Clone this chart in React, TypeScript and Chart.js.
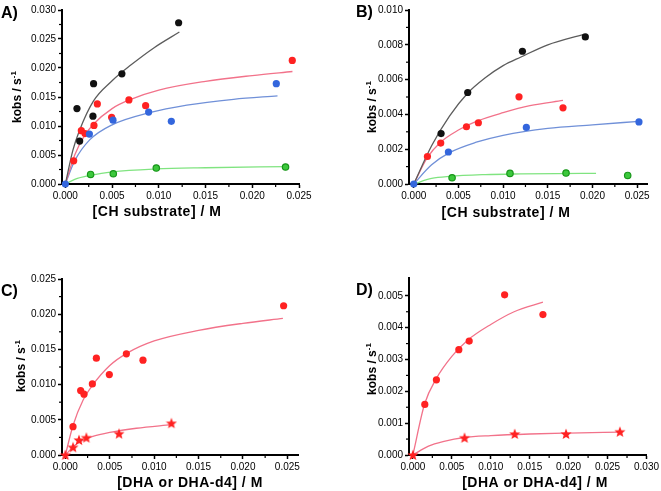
import React, { useEffect, useRef } from "react";
import { Chart, registerables } from "chart.js";
Chart.register(...registerables);

// ---------- Panel A ----------
const aXTickLabels = ["0.000", "0.005", "0.010", "0.015", "0.020", "0.025"];
const aYTickLabels = ["0.000", "0.005", "0.010", "0.015", "0.020", "0.025", "0.030"];
const aBlackX = [0.00124, 0.00153, 0.00295, 0.00302, 0.00605, 0.01212];
const aBlackY = [0.013, 0.0074, 0.0117, 0.0173, 0.019, 0.0278];
const aRedX = [0.00089, 0.00171, 0.0021, 0.00306, 0.00342, 0.00495, 0.0068, 0.00859, 0.02428];
const aRedY = [0.004, 0.0092, 0.0087, 0.0101, 0.0138, 0.0115, 0.0145, 0.0135, 0.0213];
const aBlueX = [0, 0.00257, 0.0051, 0.00891, 0.01134, 0.02257];
const aBlueY = [0, 0.0086, 0.011, 0.0124, 0.0108, 0.0173];
const aGreenX = [0.0027, 0.00513, 0.00973, 0.02356];
const aGreenY = [0.00165, 0.00177, 0.00275, 0.00293];
const aBlackFitX = [0, 0.0008, 0.0015, 0.003, 0.005, 0.007, 0.0095, 0.0122];
const aBlackFitY = [0, 0.0058, 0.0092, 0.0143, 0.0178, 0.0205, 0.0235, 0.0262];
const aRedFitX = [0, 0.001, 0.002, 0.003, 0.005, 0.007, 0.01, 0.015, 0.02, 0.0243];
const aRedFitY = [0, 0.005, 0.0082, 0.0103, 0.013, 0.0146, 0.0162, 0.0177, 0.0187, 0.0194];
const aBlueFitX = [0, 0.001, 0.0026, 0.005, 0.009, 0.013, 0.018, 0.0227];
const aBlueFitY = [0, 0.004, 0.0076, 0.0102, 0.0123, 0.0136, 0.0146, 0.0152];
const aGreenFitX = [0, 0.001, 0.0027, 0.005, 0.0097, 0.015, 0.0237];
const aGreenFitY = [0, 0.0008, 0.0015, 0.0021, 0.0026, 0.0028, 0.003];

// ---------- Panel B ----------
const bXTickLabels = ["0.000", "0.005", "0.010", "0.015", "0.020", "0.025"];
const bYTickLabels = ["0.000", "0.002", "0.004", "0.006", "0.008", "0.010"];
const bBlackX = [0.00306, 0.00604, 0.01216, 0.0192];
const bBlackY = [0.0029, 0.00526, 0.00763, 0.00845];
const bRedX = [0.00153, 0.00302, 0.0059, 0.00723, 0.01178, 0.0167];
const bRedY = [0.00158, 0.00235, 0.00329, 0.00352, 0.00501, 0.00438];
const bBlueX = [0, 0.00388, 0.0126, 0.0252];
const bBlueY = [0, 0.00184, 0.00325, 0.00357];
const bGreenX = [0.00429, 0.01077, 0.01704, 0.02394];
const bGreenY = [0.00036, 0.00061, 0.00063, 0.00049];
const bBlackFitX = [0, 0.002, 0.004, 0.006, 0.008, 0.01, 0.012, 0.015, 0.019];
const bBlackFitY = [0, 0.0022, 0.0039, 0.0052, 0.0061, 0.0068, 0.0073, 0.008, 0.0086];
const bRedFitX = [0, 0.0015, 0.003, 0.005, 0.007, 0.01, 0.013, 0.0167];
const bRedFitY = [0, 0.0015, 0.0024, 0.0031, 0.0036, 0.0041, 0.0045, 0.0048];
const bBlueFitX = [0, 0.002, 0.004, 0.007, 0.01, 0.015, 0.02, 0.0252];
const bBlueFitY = [0, 0.0011, 0.0018, 0.0024, 0.0028, 0.0032, 0.0034, 0.0036];
const bGreenFitX = [0, 0.002, 0.004, 0.008, 0.012, 0.016, 0.0204];
const bGreenFitY = [0, 0.00032, 0.00044, 0.00054, 0.00058, 0.0006, 0.00061];

// ---------- Panel C ----------
const cXTickLabels = ["0.000", "0.005", "0.010", "0.015", "0.020", "0.025"];
const cYTickLabels = ["0.000", "0.005", "0.010", "0.015", "0.020", "0.025"];
const cRedX = [0.00086, 0.00172, 0.0021, 0.00304, 0.00349, 0.00495, 0.00687, 0.00874, 0.02458];
const cRedY = [0.00403, 0.00915, 0.00864, 0.0101, 0.01376, 0.01143, 0.01437, 0.01347, 0.0212];
const cStarX = [0, 0.00086, 0.00153, 0.00236, 0.00604, 0.01194];
const cStarY = [0, 0.0011, 0.00213, 0.00246, 0.00303, 0.00451];
const cRedFitX = [0, 0.00086, 0.002, 0.003, 0.005, 0.007, 0.01, 0.015, 0.02, 0.0245];
const cRedFitY = [0, 0.0042, 0.0078, 0.0098, 0.0127, 0.0145, 0.0162, 0.0177, 0.0187, 0.0194];
const cStarFitX = [0, 0.001, 0.002, 0.003, 0.005, 0.008, 0.0119];
const cStarFitY = [0, 0.0013, 0.0021, 0.0026, 0.0032, 0.0038, 0.0043];

// ---------- Panel D ----------
const dXTickLabels = ["0.000", "0.005", "0.010", "0.015", "0.020", "0.025", "0.030"];
const dYTickLabels = ["0.000", "0.001", "0.002", "0.003", "0.004", "0.005"];
const dRedX = [0.00153, 0.00302, 0.0059, 0.00723, 0.01178, 0.0167];
const dRedY = [0.00159, 0.00236, 0.00331, 0.00358, 0.00503, 0.00441];
const dStarX = [0, 0.00663, 0.01308, 0.01967, 0.02659];
const dStarY = [0, 0.00054, 0.00066, 0.00066, 0.00073];
const dRedFitX = [0, 0.0015, 0.003, 0.005, 0.007, 0.01, 0.013, 0.0167];
const dRedFitY = [0, 0.0016, 0.0024, 0.0031, 0.0036, 0.0041, 0.0045, 0.0048];
const dStarFitX = [0, 0.002, 0.004, 0.0066, 0.01, 0.015, 0.02, 0.0267];
const dStarFitY = [0, 0.00028, 0.00043, 0.00055, 0.00061, 0.00066, 0.00069, 0.00072];

const FONT = '"Liberation Sans", Arial, Helvetica, sans-serif';

const C = {
  black: "#111111",
  blackFit: "#5c5c5c",
  red: "#ff2222",
  redFit: "#f2728a",
  blue: "#3366dd",
  blueFit: "#7090d8",
  green: "#3cc83c",
  greenEdge: "#18961a",
  greenFit: "#80e480",
};

const pts = (xs: number[], ys: number[]) => xs.map((x, i) => ({ x, y: ys[i] }));

function makeStar(color: string) {
  const c = document.createElement("canvas");
  c.width = 12;
  c.height = 12;
  const g = c.getContext("2d")!;
  g.fillStyle = color;
  g.beginPath();
  for (let i = 0; i < 10; i++) {
    const r = i % 2 === 0 ? 5.8 : 2.5;
    const a = -Math.PI / 2 + (i * Math.PI) / 5;
    const px = 6 + r * Math.cos(a);
    const py = 6.4 + r * Math.sin(a);
    if (i === 0) g.moveTo(px, py);
    else g.lineTo(px, py);
  }
  g.closePath();
  g.fill();
  return c;
}

const scatterDs = (xs: number[], ys: number[], fill: string, edge?: string, style?: any) => ({
  type: "scatter",
  data: pts(xs, ys),
  pointStyle: style || "circle",
  pointRadius: style ? 5 : edge ? 3.2 : 3.6,
  backgroundColor: fill,
  borderColor: edge || fill,
  borderWidth: edge ? 1.2 : 0,
  showLine: false,
  order: 0,
  clip: false,
});

const fitDs = (xs: number[], ys: number[], color: string) => ({
  type: "scatter",
  data: pts(xs, ys),
  showLine: true,
  borderColor: color,
  borderWidth: 1.3,
  pointRadius: 0,
  cubicInterpolationMode: "monotone",
  fill: false,
  order: 1,
  clip: false,
});

const textPlugin = {
  id: "panelText",
  afterDraw(chart: any, _a: any, o: any) {
    const ctx = chart.ctx;
    ctx.save();
    ctx.fillStyle = "#000";
    ctx.font = `bold 16px ${FONT}`;
    ctx.textAlign = "left";
    ctx.textBaseline = "alphabetic";
    ctx.fillText(o.label, o.labelX, o.labelY);

    ctx.font = `bold 14px ${FONT}`;
    ctx.textAlign = "center";
    ctx.textBaseline = "middle";
    try {
      (ctx as any).letterSpacing = "0.5px";
    } catch (e) {}
    ctx.fillText(o.xTitle, o.xTitleX, o.xTitleY);
    try {
      (ctx as any).letterSpacing = "0px";
    } catch (e) {}

    ctx.translate(o.yTitleX, o.yTitleY);
    ctx.rotate(-Math.PI / 2);
    const mainF = `bold 12px ${FONT}`;
    const supF = `bold 8px ${FONT}`;
    ctx.font = mainF;
    const w1 = ctx.measureText(o.yTitle).width;
    ctx.font = supF;
    const w2 = ctx.measureText(o.yTitleSup).width;
    const start = -(w1 + w2) / 2;
    ctx.textAlign = "left";
    ctx.font = mainF;
    ctx.fillText(o.yTitle, start, 0);
    ctx.font = supF;
    ctx.fillText(o.yTitleSup, start + w1, -4);
    ctx.restore();
  },
};

const minorPlugin = {
  id: "minorTicks",
  afterDraw(chart: any) {
    const ctx = chart.ctx;
    const area = chart.chartArea;
    ctx.save();
    ctx.strokeStyle = "#000";
    ctx.lineWidth = 1.2;
    ["x", "y"].forEach((id) => {
      const s = chart.scales[id];
      const t = s.ticks;
      for (let i = 0; i < t.length - 1; i++) {
        const p = s.getPixelForValue((t[i].value + t[i + 1].value) / 2);
        ctx.beginPath();
        if (id === "x") {
          ctx.moveTo(p, area.bottom);
          ctx.lineTo(p, area.bottom + 3);
        } else {
          ctx.moveTo(area.left, p);
          ctx.lineTo(area.left - 3, p);
        }
        ctx.stroke();
      }
    });
    ctx.restore();
  },
};

function axis(min: number, max: number, labels: string[], fit: (s: any) => void) {
  return {
    type: "linear",
    min,
    max,
    afterBuildTicks: (s: any) => {
      s.ticks = labels.map((l) => ({ value: parseFloat(l) }));
    },
    afterFit: fit,
    ticks: {
      autoSkip: false,
      maxRotation: 0,
      minRotation: 0,
      color: "#000",
      padding: 2,
      font: { size: 10, family: FONT },
      callback: (_v: any, i: number) => labels[i],
    },
    grid: {
      drawOnChartArea: false,
      drawTicks: true,
      tickLength: 4,
      tickWidth: 1.5,
      tickColor: "#000",
    },
    border: { display: true, color: "#000", width: 2 },
  };
}

type Panel = {
  left: number;
  top: number;
  w: number;
  h: number;
  pad: { left: number; top: number; right: number; bottom: number };
  yWidth: number;
  xHeight: number;
  x: [number, number];
  y: [number, number];
  xLabels: string[];
  yLabels: string[];
  datasets: (star: HTMLCanvasElement) => any[];
  text: any;
};

const panels: Panel[] = [
  {
    left: 0, top: 0, w: 330, h: 245,
    pad: { left: 0, top: 10, right: 31, bottom: 0 }, yWidth: 62, xHeight: 61,
    x: [-0.00036, 0.025], y: [0, 0.03],
    xLabels: aXTickLabels, yLabels: aYTickLabels,
    datasets: () => [
      fitDs(aBlackFitX, aBlackFitY, C.blackFit),
      fitDs(aRedFitX, aRedFitY, C.redFit),
      fitDs(aBlueFitX, aBlueFitY, C.blueFit),
      fitDs(aGreenFitX, aGreenFitY, C.greenFit),
      scatterDs(aBlueX, aBlueY, C.blue),
      scatterDs(aBlackX, aBlackY, C.black),
      scatterDs(aRedX, aRedY, C.red),
      scatterDs(aGreenX, aGreenY, C.green, C.greenEdge),
    ],
    text: { label: "A)", labelX: 1, labelY: 18, xTitle: "[CH substrate] / M", xTitleX: 157, xTitleY: 212, yTitle: "kobs / s", yTitleSup: "-1", yTitleX: 18, yTitleY: 97 },
  },
  {
    left: 330, top: 0, w: 331, h: 245,
    pad: { left: 0, top: 10, right: 14, bottom: 0 }, yWidth: 79, xHeight: 61,
    x: [-0.00053, 0.0261], y: [0, 0.01],
    xLabels: bXTickLabels, yLabels: bYTickLabels,
    datasets: () => [
      fitDs(bBlackFitX, bBlackFitY, C.blackFit),
      fitDs(bRedFitX, bRedFitY, C.redFit),
      fitDs(bBlueFitX, bBlueFitY, C.blueFit),
      fitDs(bGreenFitX, bGreenFitY, C.greenFit),
      scatterDs(bBlueX, bBlueY, C.blue),
      scatterDs(bBlackX, bBlackY, C.black),
      scatterDs(bRedX, bRedY, C.red),
      scatterDs(bGreenX, bGreenY, C.green, C.greenEdge),
    ],
    text: { label: "B)", labelX: 26, labelY: 17, xTitle: "[CH substrate] / M", xTitleX: 176, xTitleY: 213, yTitle: "kobs / s", yTitleSup: "-1", yTitleX: 43, yTitleY: 107 },
  },
  {
    left: 0, top: 245, w: 330, h: 246,
    pad: { left: 0, top: 34, right: 32, bottom: 0 }, yWidth: 62, xHeight: 36,
    x: [-0.00038, 0.0262], y: [0, 0.025],
    xLabels: cXTickLabels, yLabels: cYTickLabels,
    datasets: (star) => [
      fitDs(cRedFitX, cRedFitY, C.redFit),
      fitDs(cStarFitX, cStarFitY, C.redFit),
      scatterDs(cRedX, cRedY, C.red),
      scatterDs(cStarX, cStarY, C.red, undefined, star),
    ],
    text: { label: "C)", labelX: 1, labelY: 51, xTitle: "[DHA or DHA-d4] / M", xTitleX: 190, xTitleY: 238, yTitle: "kobs / s", yTitleSup: "-1", yTitleX: 22, yTitleY: 121 },
  },
  {
    left: 330, top: 245, w: 331, h: 246,
    pad: { left: 0, top: 33, right: 14, bottom: 0 }, yWidth: 79, xHeight: 36,
    x: [-0.0005, 0.03], y: [0, 0.00556],
    xLabels: dXTickLabels, yLabels: dYTickLabels,
    datasets: (star) => [
      fitDs(dRedFitX, dRedFitY, C.redFit),
      fitDs(dStarFitX, dStarFitY, C.redFit),
      scatterDs(dRedX, dRedY, C.red),
      scatterDs(dStarX, dStarY, C.red, undefined, star),
    ],
    text: { label: "D)", labelX: 26, labelY: 50, xTitle: "[DHA or DHA-d4] / M", xTitleX: 205, xTitleY: 238, yTitle: "kobs / s", yTitleSup: "-1", yTitleX: 43, yTitleY: 124 },
  },
];

function PanelChart({ p }: { p: Panel }) {
  const ref = useRef<HTMLCanvasElement>(null);
  useEffect(() => {
    const star = makeStar(C.red);
    const chart = new Chart(ref.current!, {
      type: "scatter",
      data: { datasets: p.datasets(star) as any },
      options: {
        responsive: false,
        animation: false,
        devicePixelRatio: 1,
        layout: { padding: p.pad },
        plugins: {
          legend: { display: false },
          tooltip: { enabled: false },
          panelText: p.text,
        } as any,
        scales: {
          x: axis(p.x[0], p.x[1], p.xLabels, (s: any) => { s.height = p.xHeight; }) as any,
          y: axis(p.y[0], p.y[1], p.yLabels, (s: any) => { s.width = p.yWidth; }) as any,
        },
      },
      plugins: [textPlugin as any, minorPlugin as any],
    });
    return () => chart.destroy();
  }, [p]);
  return (
    <canvas
      ref={ref}
      width={p.w}
      height={p.h}
      style={{ position: "absolute", left: p.left, top: p.top, width: p.w, height: p.h }}
    />
  );
}

export default function App() {
  return (
    <div style={{ position: "fixed", left: 0, top: 0, width: 661, height: 491, background: "#fff" }}>
      {panels.map((p, i) => (
        <PanelChart key={i} p={p} />
      ))}
    </div>
  );
}
